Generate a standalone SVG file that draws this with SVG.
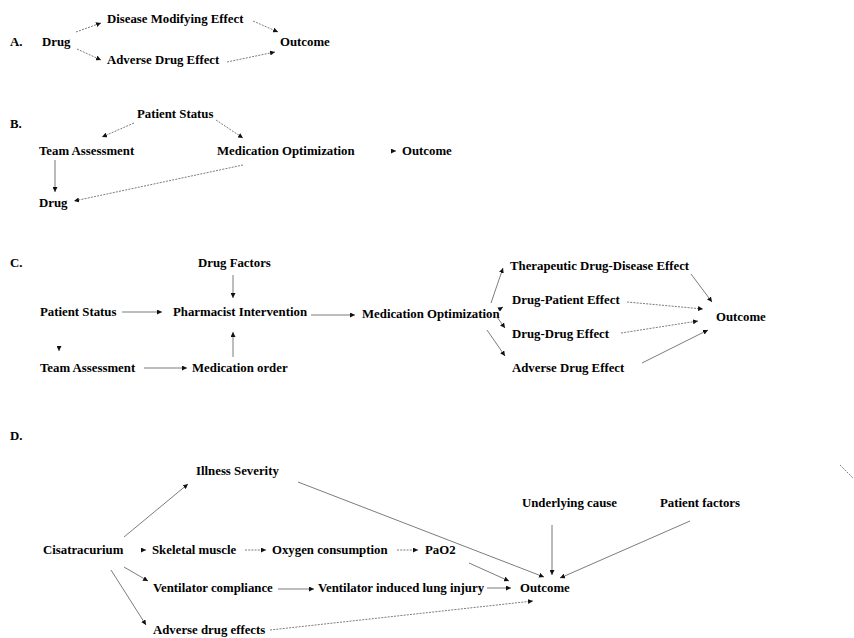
<svg xmlns="http://www.w3.org/2000/svg" width="854" height="638" viewBox="0 0 854 638">
<defs>
<marker id="ah" markerUnits="userSpaceOnUse" markerWidth="6" markerHeight="5" refX="5" refY="2.5" orient="auto">
<path d="M0,0 L5,2.5 L0,5 Z" fill="#111"/>
</marker>
<style>
text{font-family:"Liberation Serif","Times New Roman",serif;font-weight:bold;font-size:12.8px;fill:#000}
.c{fill:none;stroke:#444;stroke-width:0.7;marker-end:url(#ah)}
.d{stroke-dasharray:2,1.2}
.s{stroke:#666;stroke-width:0.9}
.n{fill:none;stroke:#444;stroke-width:0.7}
</style>
</defs>
<rect width="854" height="638" fill="#fff"/>
<g id="labels">
<text x="10" y="46">A.</text>
<text x="10" y="128">B.</text>
<text x="10" y="267">C.</text>
<text x="10" y="440">D.</text>
</g>
<g id="A">
<g id="a-drug"><text x="42" y="46">Drug</text></g>
<g id="a-dme"><text x="107" y="23">Disease Modifying Effect</text></g>
<g id="a-ade"><text x="107" y="64">Adverse Drug Effect</text></g>
<g id="a-out"><text x="280" y="46">Outcome</text></g>
</g>
<g id="B">
<g id="b-ps"><text x="137" y="118">Patient Status</text></g>
<g id="b-ta"><text x="39" y="155">Team Assessment</text></g>
<g id="b-mo"><text x="217" y="155">Medication Optimization</text></g>
<g id="b-out"><text x="402" y="155">Outcome</text></g>
<g id="b-drug"><text x="39" y="207">Drug</text></g>
</g>
<g id="C">
<g id="c-df"><text x="198" y="267">Drug Factors</text></g>
<g id="c-ps"><text x="40" y="316">Patient Status</text></g>
<g id="c-pi"><text x="173" y="316">Pharmacist Intervention</text></g>
<g id="c-mo"><text x="362" y="318">Medication Optimization</text></g>
<g id="c-ta"><text x="40" y="372">Team Assessment</text></g>
<g id="c-mord"><text x="192" y="372">Medication order</text></g>
<g id="c-tdde"><text x="510" y="270">Therapeutic Drug-Disease Effect</text></g>
<g id="c-dpe"><text x="512" y="304">Drug-Patient Effect</text></g>
<g id="c-dde"><text x="512" y="338">Drug-Drug Effect</text></g>
<g id="c-ade"><text x="512" y="372">Adverse Drug Effect</text></g>
<g id="c-out"><text x="716" y="321">Outcome</text></g>
</g>
<g id="D">
<g id="d-is"><text x="196" y="475">Illness Severity</text></g>
<g id="d-cis"><text x="43" y="554">Cisatracurium</text></g>
<g id="d-sm"><text x="152" y="554">Skeletal muscle</text></g>
<g id="d-oc"><text x="272" y="554">Oxygen consumption</text></g>
<g id="d-pao2"><text x="425" y="554">PaO2</text></g>
<g id="d-vc"><text x="153" y="592">Ventilator compliance</text></g>
<g id="d-vili"><text x="318" y="592">Ventilator induced lung injury</text></g>
<g id="d-out"><text x="520" y="592">Outcome</text></g>
<g id="d-ade"><text x="153" y="634">Adverse drug effects</text></g>
<g id="d-uc"><text x="522" y="507">Underlying cause</text></g>
<g id="d-pf"><text x="660" y="507">Patient factors</text></g>
</g>
<g id="connectors">
<path class="c d" d="M76,32 L101,23"/>
<path class="c d" d="M77,49 L101,60"/>
<path class="c d" d="M253,21 L278,32"/>
<path class="c d" d="M227,62 L275,52"/>
<path class="c d" d="M134,123 L102,137"/>
<path class="c d" d="M216,120 L243,138"/>
<path class="c s" d="M55,160 L55,192"/>
<path class="c d" d="M243,165 L74,201"/>
<path class="c" d="M391,151 L396,151"/>
<path class="c" d="M233,275 L233,298"/>
<path class="c" d="M122,312 L162,312"/>
<path class="c" d="M311,315 L355,315"/>
<path class="c" d="M59,347 L59,351"/>
<path class="c" d="M144,368 L187,368"/>
<path class="c" d="M233,357 L233,332"/>
<path class="c" d="M491,303 L503,268"/>
<path class="c" d="M498,310 L503,307"/>
<path class="c" d="M497,317 L505,328"/>
<path class="c" d="M487,330 L505,356"/>
<path class="c" d="M691,274 L712,302"/>
<path class="c d" d="M627,302 L703,309"/>
<path class="c d" d="M621,333 L698,321"/>
<path class="c" d="M642,363 L708,330"/>
<path class="c" d="M124,537 L188,484"/>
<path class="c" d="M141,550 L146,550"/>
<path class="c d" d="M245,550 L266,550"/>
<path class="c d" d="M397,550 L418,550"/>
<path class="c" d="M124,567 L148,581"/>
<path class="c" d="M111,570 L146,625"/>
<path class="c" d="M278,589 L314,589"/>
<path class="c" d="M487,588 L511,588"/>
<path class="c" d="M298,482 L544,577"/>
<path class="c" d="M469,563 L509,581"/>
<path class="c d" d="M270,630 L533,601"/>
<path class="c s" d="M552,525 L552,575"/>
<path class="c" d="M690,521 L560,578"/>
<path class="n d" d="M840,465 L853,478"/>
</g>
</svg>
